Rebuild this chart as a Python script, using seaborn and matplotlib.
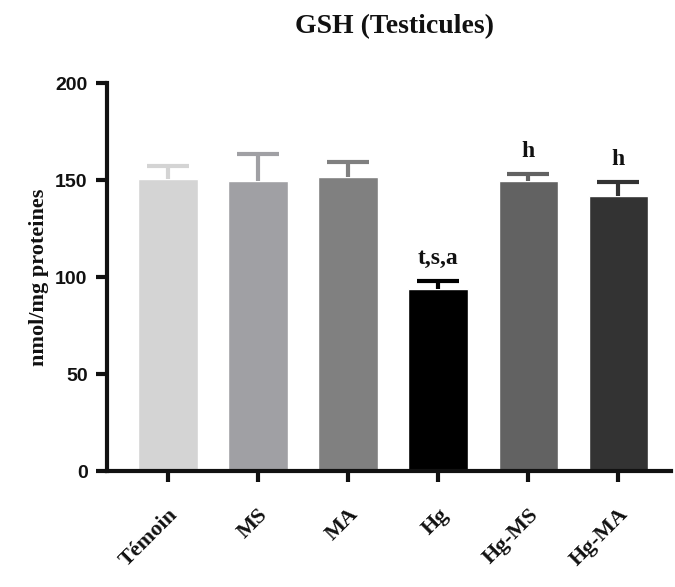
import matplotlib
matplotlib.use("Agg")
import matplotlib.pyplot as plt
import seaborn as sns
import pandas as pd

categories = ["Témoin", "MS", "MA", "Hg", "Hg-MS", "Hg-MA"]
means = [150.5, 149.6, 151.4, 94.0, 149.3, 141.6]
sem_up = [6.5, 13.6, 7.7, 4.0, 4.0, 7.6]
labels = ["", "", "", "t,s,a", "h", "h"]
colors = ["#d4d4d4", "#a0a0a4", "#808080", "#000000", "#626262", "#333333"]

df = pd.DataFrame({"group": categories, "value": means})

sns.set_theme(style="white")
plt.rcParams["font.family"] = ["Liberation Serif", "DejaVu Serif"]

fig = plt.figure(figsize=(6.75, 5.87), dpi=100)
ax = fig.add_axes([0.1585, 0.1976, 0.835, 0.661])

sns.barplot(data=df, x="group", y="value", hue="group", palette=colors,
            order=categories, hue_order=categories, legend=False,
            errorbar=None, width=0.66, ax=ax, saturation=1)

for i, (m, e, c) in enumerate(zip(means, sem_up, colors)):
    _, caps, _ = ax.errorbar(i, m, yerr=[[0], [e]], fmt="none", ecolor=c,
                             elinewidth=3, capsize=15, capthick=3, zorder=3)
    caps[0].set_visible(False)
    if labels[i]:
        ax.text(i, m + e + 6, labels[i], ha="center", va="bottom",
                fontsize=17, fontweight="bold", color="#111111",
                family=["Liberation Serif"])

ax.set_ylim(0, 200)
ax.set_xlim(-0.675, 5.58)
ax.set_yticks([0, 50, 100, 150, 200])
ax.set_yticklabels(["0", "50", "100", "150", "200"],
                   family=["Liberation Sans"], fontweight="bold", fontsize=14)
ax.set_xticks(range(len(categories)))
ax.set_xticklabels(categories, rotation=45, ha="right", rotation_mode="anchor",
                   fontweight="bold", fontsize=16, family=["Liberation Serif"])
ax.tick_params(axis="both", direction="out", length=8, width=3,
               colors="#111111", bottom=True, left=True, pad=6)
ax.tick_params(axis="x", pad=16)

for s in ["top", "right"]:
    ax.spines[s].set_visible(False)
for s in ["left", "bottom"]:
    ax.spines[s].set_linewidth(3)
    ax.spines[s].set_color("#111111")

ax.set_xlabel("")
ax.set_ylabel("nmol/mg proteines", fontsize=16, fontweight="bold",
              color="#111111", labelpad=4, family=["Liberation Serif"])
fig.text(0.584, 0.955, "GSH (Testicules)", ha="center", va="center",
         fontsize=20, fontweight="bold", color="#111111",
         family=["Liberation Serif"])

fig.savefig("out.png", dpi=100)
